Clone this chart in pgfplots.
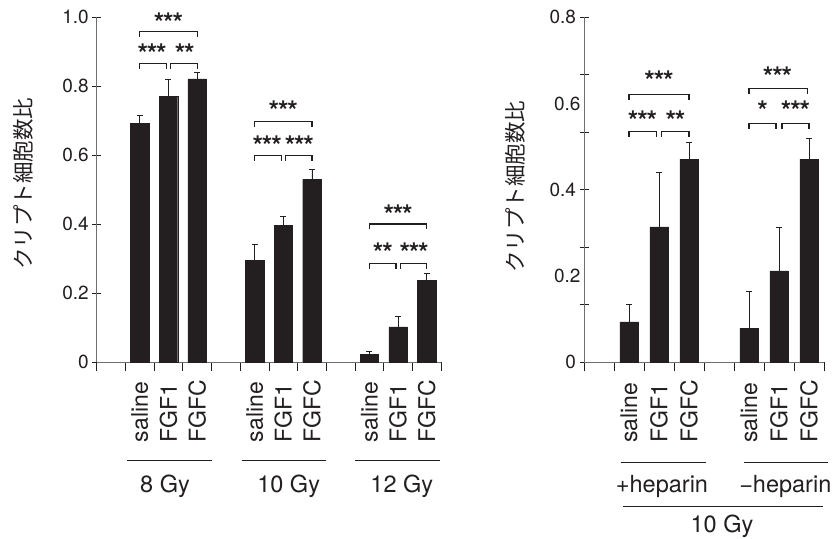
\documentclass[border=0pt]{standalone}
\usepackage{fontspec}
\setmainfont{TeX Gyre Heros}
\newfontfamily\jp{Noto Sans CJK JP}
\usepackage{pgfplots}
\pgfplotsset{compat=1.18}
\definecolor{barc}{HTML}{231F20}
\definecolor{axc}{HTML}{6E6E6E}
\newcommand{\sthree}{*\kern-1.2pt*\kern-1.2pt*}
\newcommand{\stwo}{*\kern-1.2pt*}
\pgfplotsset{
 mystyle/.style={
  scale only axis, height=345pt,
  axis x line*=bottom, axis y line*=left,
  ymin=0, clip=false,
  axis line style={axc, line width=0.9pt},
  every tick/.style={barc, line width=0.8pt},
  xtick align=outside, ytick align=center,
  major tick length=9pt,
  /pgf/number format/assume math mode=true,
  yticklabel style={font=\fontsize{19}{20}\selectfont, text=barc},
  xticklabels={},
  extra x tick style={major tick length=0pt,
     xticklabel style={rotate=90, anchor=east, inner sep=0pt, text width=80pt, align=left,
       font=\fontsize{23}{26}\selectfont, text=barc}},
  ylabel={\jp クリプト細胞数比},
 },
 bars/.style={ybar, bar width=18.5pt, fill=barc, draw=barc,
   error bars/.cd, y dir=plus, y explicit,
   error bar style={barc, line width=0.8pt},
   error mark options={barc, rotate=90, mark size=3pt, line width=0.8pt}},
}
\tikzset{
 brk/.style={barc, line width=1.1pt},
 star/.style={font=\fontsize{27}{27}\selectfont\bfseries, text=barc, inner sep=0pt},
 grp/.style={font=\fontsize{23.5}{26}\selectfont, text=barc, anchor=base},
}
\begin{document}
\begin{tikzpicture}
\path[use as bounding box] (0pt,0pt) rectangle (834pt,538pt);
% ---------------- left ----------------
\begin{axis}[mystyle, at={(96.7pt,176pt)}, anchor=south west, width=344.4pt,
  xmin=0, xmax=12, ymax=1.0,
  xtick={0,...,12},
  ytick={0,0.2,0.4,0.6,0.8,1.0}, yticklabels={0,0.2,0.4,0.6,0.8,1.0},
  extra x ticks={1.5,2.5,3.5,5.5,6.5,7.5,9.5,10.5,11.5},
  extra x tick labels={saline,FGF1,FGFC,saline,FGF1,FGFC,saline,FGF1,FGFC},
  ylabel style={at={(axis description cs:-0.213,0.517)}, anchor=center,
     font=\fontsize{21.5}{24}\selectfont, text=barc},
]
\addplot[bars] table[x=x, y=y, y error=e] {
x y e
1.5 0.691 0.023
2.5 0.771 0.049
3.5 0.821 0.017
5.5 0.294 0.048
6.5 0.396 0.027
7.5 0.529 0.028
9.5 0.022 0.008
10.5 0.102 0.030
11.5 0.236 0.022
};
% 8 Gy brackets
\draw[brk] (axis cs:1.5,0.958) ++(0,-5.5pt) -- (axis cs:1.5,0.958) -- (axis cs:3.5,0.958) -- ++(0,-5.5pt);
\node[star] at (axis cs:2.5,0.985) {\sthree};
\draw[brk] (axis cs:1.5,0.865) ++(0,-5.5pt) -- (axis cs:1.5,0.865) -- (axis cs:2.43,0.865) -- ++(0,-5.5pt);
\draw[brk] (axis cs:2.57,0.865) ++(0,-5.5pt) -- (axis cs:2.57,0.865) -- (axis cs:3.5,0.865) -- ++(0,-5.5pt);
\node[star] at (axis cs:1.93,0.893) {\sthree};
\node[star] at (axis cs:3.07,0.893) {\stwo};
% 10 Gy brackets
\draw[brk] (axis cs:5.5,0.698) ++(0,-5.5pt) -- (axis cs:5.5,0.698) -- (axis cs:7.5,0.698) -- ++(0,-5.5pt);
\node[star] at (axis cs:6.5,0.728) {\sthree};
\draw[brk] (axis cs:5.5,0.599) ++(0,-5.5pt) -- (axis cs:5.5,0.599) -- (axis cs:6.43,0.599) -- ++(0,-5.5pt);
\draw[brk] (axis cs:6.57,0.599) ++(0,-5.5pt) -- (axis cs:6.57,0.599) -- (axis cs:7.5,0.599) -- ++(0,-5.5pt);
\node[star] at (axis cs:5.94,0.626) {\sthree};
\node[star] at (axis cs:7.06,0.626) {\sthree};
% 12 Gy brackets
\draw[brk] (axis cs:9.5,0.400) ++(0,-5.5pt) -- (axis cs:9.5,0.400) -- (axis cs:11.5,0.400) -- ++(0,-5.5pt);
\node[star] at (axis cs:10.5,0.428) {\sthree};
\draw[brk] (axis cs:9.5,0.286) ++(0,-5.5pt) -- (axis cs:9.5,0.286) -- (axis cs:10.43,0.286) -- ++(0,-5.5pt);
\draw[brk] (axis cs:10.57,0.286) ++(0,-5.5pt) -- (axis cs:10.57,0.286) -- (axis cs:11.5,0.286) -- ++(0,-5.5pt);
\node[star] at (axis cs:9.97,0.316) {\stwo};
\node[star] at (axis cs:11.06,0.316) {\sthree};
% group labels
\draw[barc, line width=1pt] (axis cs:1.05,-0.2865) -- (axis cs:4.03,-0.2865);
\draw[barc, line width=1pt] (axis cs:5.05,-0.2865) -- (axis cs:8.0,-0.2865);
\draw[barc, line width=1pt] (axis cs:9.0,-0.2865) -- (axis cs:11.97,-0.2865);
\node[grp] at (axis cs:2.38,-0.379) {8 Gy};
\node[grp] at (axis cs:6.69,-0.379) {10 Gy};
\node[grp] at (axis cs:10.63,-0.379) {12 Gy};
\end{axis}
% ---------------- right ----------------
\begin{axis}[mystyle, at={(584pt,175.7pt)}, anchor=south west, width=240pt,
  xmin=0, xmax=8, ymax=0.8,
  xtick={0,...,8},
  ytick={0,0.133333,0.266667,0.4,0.533333,0.666667,0.8},
  yticklabels={0,,,0.4,,,0.8},
  extra y ticks={0.2,0.6}, extra y tick labels={0.2,0.6},
  extra y tick style={major tick length=0pt},
  extra x ticks={1.5,2.5,3.5,5.5,6.5,7.5},
  extra x tick labels={saline,FGF1,FGFC,saline,FGF1,FGFC},
  ylabel style={at={(axis description cs:-0.2875,0.509)}, anchor=center,
     font=\fontsize{21.5}{24}\selectfont, text=barc},
]
\addplot[bars] table[x=x, y=y, y error=e] {
x y e
1.5 0.094 0.040
2.5 0.314 0.126
3.5 0.471 0.038
5.5 0.079 0.086
6.5 0.212 0.101
7.5 0.471 0.049
};
% +heparin brackets
\draw[brk] (axis cs:1.5,0.622) ++(0,-5.5pt) -- (axis cs:1.5,0.622) -- (axis cs:3.5,0.622) -- ++(0,-5.5pt);
\node[star] at (axis cs:2.5,0.652) {\sthree};
\draw[brk] (axis cs:1.5,0.536) ++(0,-5.5pt) -- (axis cs:1.5,0.536) -- (axis cs:2.43,0.536) -- ++(0,-5.5pt);
\draw[brk] (axis cs:2.57,0.536) ++(0,-5.5pt) -- (axis cs:2.57,0.536) -- (axis cs:3.5,0.536) -- ++(0,-5.5pt);
\node[star] at (axis cs:1.95,0.560) {\sthree};
\node[star] at (axis cs:3.05,0.560) {\stwo};
% -heparin brackets
\draw[brk] (axis cs:5.5,0.635) ++(0,-5.5pt) -- (axis cs:5.5,0.635) -- (axis cs:7.45,0.635) -- ++(0,-5.5pt);
\node[star] at (axis cs:6.45,0.662) {\sthree};
\draw[brk] (axis cs:5.5,0.554) ++(0,-5.5pt) -- (axis cs:5.5,0.554) -- (axis cs:6.4,0.554) -- ++(0,-5.5pt);
\draw[brk] (axis cs:6.6,0.554) ++(0,-5.5pt) -- (axis cs:6.6,0.554) -- (axis cs:7.5,0.554) -- ++(0,-5.5pt);
\node[star] at (axis cs:5.95,0.584) {*};
\node[star] at (axis cs:7.05,0.584) {\sthree};
% group labels
\draw[barc, line width=1pt] (axis cs:1.23,-0.2335) -- (axis cs:4.06,-0.2335);
\draw[barc, line width=1pt] (axis cs:5.33,-0.2335) -- (axis cs:8.14,-0.2335);
\node[grp] at (axis cs:2.6,-0.303) {+heparin};
\node[grp] at (axis cs:6.71,-0.303) {−heparin};
\draw[barc, line width=1pt] (axis cs:1.3,-0.3355) -- (axis cs:7.97,-0.3355);
\node[grp] at (axis cs:4.6,-0.394) {10 Gy};
\end{axis}
\end{tikzpicture}
\end{document}
